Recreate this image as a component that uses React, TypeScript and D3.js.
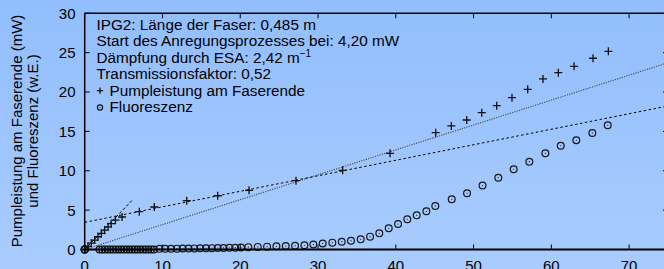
import React from "react";
import * as d3 from "d3";

const W = 664;
const H = 269;

// Pumpleistung am Faserende (+)
const plusX = [0, 0, 0, 0.42, 0.85, 1.28, 1.71, 2.14, 2.57, 3.0, 3.4, 3.95, 4.8, 7.02, 8.95, 13.12, 17.1, 21.13, 27.17, 33.17, 39.26, 45.13, 47.14, 49.12, 51.05, 52.98, 54.94, 56.96, 58.93, 60.9, 62.92, 65.36, 67.33];
const plusY = [0, 0, 0, 0.4, 0.8, 1.2, 1.62, 2.04, 2.46, 2.88, 3.28, 3.72, 4.13, 4.8, 5.4, 6.2, 6.83, 7.52, 8.74, 10.06, 12.22, 14.84, 15.69, 16.45, 17.38, 18.27, 19.28, 20.35, 21.66, 22.46, 23.27, 24.29, 25.17];

// Fluoreszenz (o)
const circleX = [0, 0, 0,
  1.9, 2.25, 2.6, 2.95, 3.3, 3.65, 4.0, 4.35, 4.7, 5.05, 5.4, 5.75, 6.1, 6.45, 6.8, 7.15, 7.5, 7.85, 8.2, 8.55, 8.9,
  9.6, 10.35, 11.1, 11.85, 12.6, 13.35, 14.1, 14.85, 15.6, 16.35, 17.1, 17.85, 18.6, 19.35, 20.1,
  21.04, 22.25, 23.45, 24.65, 25.85, 27.05, 28.25, 29.4, 30.6, 31.84, 33.05, 34.24, 35.49, 36.69, 37.88, 39.09, 40.29, 41.48, 42.69, 43.93, 45.08,
  47.19, 49.16, 51.15, 53.18, 55.16, 57.17, 59.23, 61.21, 63.21, 65.27, 67.25];
const circleY = [0, 0, 0,
  0, 0, 0, 0, 0, 0, 0, 0, 0, 0, 0, 0, 0, 0, 0, 0, 0, 0, 0, 0, 0,
  0.08, 0.09, 0.1, 0.11, 0.12, 0.13, 0.14, 0.15, 0.16, 0.17, 0.18, 0.2, 0.21, 0.23, 0.25,
  0.3, 0.33, 0.36, 0.4, 0.44, 0.48, 0.54, 0.63, 0.77, 0.87, 0.99, 1.12, 1.29, 1.63, 2.05, 2.69, 3.24, 3.84, 4.34, 4.85, 5.53,
  6.38, 7.14, 8.12, 9.12, 10.19, 11.15, 12.22, 13.18, 13.87, 14.8, 15.78];

// Fit lines
const fitSteepX = [0, 6.05];
const fitSteepY = [0, 6.2];
const fitPumpX = [0, 75];
const fitPumpY = [3.45, 18.23];
const fitEsaX = [0, 75];
const fitEsaY = [0, 23.72];

const xTicks = [0, 10, 20, 30, 40, 50, 60, 70];
const yTicks = [0, 5, 10, 15, 20, 25, 30];

const legendLines = [
  "IPG2: Länge der Faser: 0,485 m",
  "Start des Anregungsprozesses bei: 4,20 mW",
  "Dämpfung durch ESA: 2,42 m",
  "Transmissionsfaktor: 0,52",
];
const seriesNames = ["Pumpleistung am Faserende", "Fluoreszenz"];
const yTitle = ["Pumpleistung am Faserende (mW)", "und Fluoreszenz (w.E.)"];

const FONT = "'Liberation Sans', Arial, Helvetica, sans-serif";

export default function App() {
  const x = d3.scaleLinear().domain([0, 75]).range([84.7, 668]);
  const y = d3.scaleLinear().domain([0, 30]).range([249.5, 13.3]);
  const line = d3.line<[number, number]>().x((d) => x(d[0])).y((d) => y(d[1]));
  const mk = (xs: number[], ys: number[]) => xs.map((v, i) => [v, ys[i]] as [number, number]);

  const x0 = x(0), x1 = x(75), yb = y(0), yt = y(30);
  const tl = 5;

  const plus = (cx: number, cy: number, k: string | number, s = 4) => (
    <path key={k} d={`M${cx - s},${cy}H${cx + s}M${cx},${cy - s}V${cy + s}`} stroke="#111" strokeWidth={1.3} fill="none" />
  );
  const circ = (cx: number, cy: number, k: string | number, r = 3.4) => (
    <g key={k}>
      <circle cx={cx} cy={cy} r={r} fill="none" stroke="#151515" strokeWidth={1.2} />
      <circle cx={cx} cy={cy} r={0.6} fill="#151515" />
    </g>
  );

  const lx = 96.5;
  const lb = 30;
  const ls = 16.4;

  return (
    <svg width={W} height={H} style={{ position: "absolute", left: 0, top: 0 }} fontFamily={FONT}>
      <defs>
        <linearGradient id="bg" x1="0" y1="0" x2="0" y2="1">
          <stop offset="0" stopColor="#92befd" />
          <stop offset="1" stopColor="#a9ccfd" />
        </linearGradient>
        <clipPath id="plot">
          <rect x={x0} y={yt} width={x1 - x0} height={yb - yt} />
        </clipPath>
      </defs>
      <rect x={0} y={0} width={W} height={H} fill="url(#bg)" />

      {/* fit lines */}
      <g clipPath="url(#plot)" fill="none">
        <path d={line(mk(fitEsaX, fitEsaY)) || ""} stroke="#4a4a4a" strokeWidth={1.1} strokeDasharray="1.2,1.2" />
        <path d={line(mk(fitPumpX, fitPumpY)) || ""} stroke="#000" strokeWidth={1} strokeDasharray="2.5,2.5" />
        <path d={line(mk(fitSteepX, fitSteepY)) || ""} stroke="#000" strokeWidth={1} strokeDasharray="3,2" />
      </g>

      {/* data */}
      {circleX.map((v, i) => circ(x(v), y(circleY[i]), "c" + i))}
      {plusX.map((v, i) => plus(x(v), y(plusY[i]), "p" + i))}

      {/* frame */}
      <g stroke="#000" fill="none">
        <path d={`M${x0},${yb}H${x1}`} strokeWidth={1.8} />
        <path d={`M${x0},${yt}H${x1}`} strokeWidth={1.5} />
        <path d={`M${x0},${yt}V${yb}`} strokeWidth={1.5} />
        <path d={`M${x1},${yt}V${yb}`} strokeWidth={1.5} />
        {xTicks.map((t) => (
          <path key={"xt" + t} d={`M${x(t)},${yb}v${-tl}M${x(t)},${yt}v${tl}`} strokeWidth={1} />
        ))}
        {yTicks.map((t) => (
          <path key={"yt" + t} d={`M${x0},${y(t)}h${tl}M${x1},${y(t)}h${-tl}`} strokeWidth={1} />
        ))}
      </g>

      {/* tick labels */}
      <g fontSize={15} fill="#000">
        {xTicks.map((t) => (
          <text key={"xl" + t} x={x(t)} y={270.7} textAnchor="middle">{t}</text>
        ))}
        {yTicks.map((t) => (
          <text key={"yl" + t} x={75.5} y={y(t) + 5.4} textAnchor="end">{t}</text>
        ))}
      </g>

      {/* y title */}
      <g fontSize={15} fill="#000">
        <text transform={`translate(21.5,131) rotate(-90)`} textAnchor="middle">{yTitle[0]}</text>
        <text transform={`translate(38,131) rotate(-90)`} textAnchor="middle">{yTitle[1]}</text>
      </g>

      {/* legend / info */}
      <g fontSize={15.3} fill="#000">
        {legendLines.map((s, i) => (
          <text key={"ll" + i} x={lx} y={lb + i * ls}>
            {s}
            {i === 2 ? <tspan fontSize={10} dy={-6}>−1</tspan> : null}
          </text>
        ))}
        <text x={lx + 13} y={lb + 4 * ls}>{seriesNames[0]}</text>
        <text x={lx + 13} y={lb + 5 * ls}>{seriesNames[1]}</text>
      </g>
      {plus(lx + 3.5, lb + 4 * ls - 5, "lp", 3.2)}
      {circ(lx + 3.5, lb + 5 * ls - 4.5, "lc", 2.6)}
    </svg>
  );
}
